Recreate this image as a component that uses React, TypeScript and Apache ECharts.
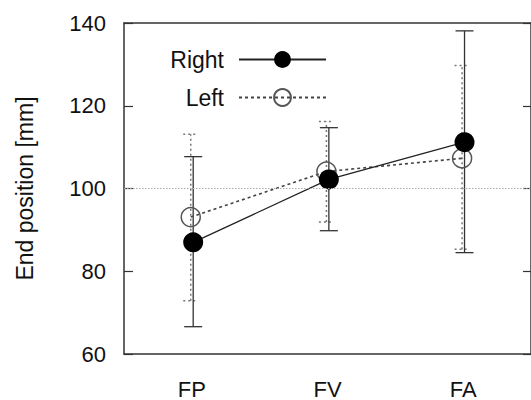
import React, { useEffect, useRef } from "react";
import * as echarts from "echarts";

const categories = ["FP", "FV", "FA"];
const rightMean = [87.0, 102.2, 111.2];
const rightLow = [66.6, 89.8, 84.5];
const rightHigh = [107.7, 114.7, 138.1];
const leftMean = [93.1, 104.1, 107.3];
const leftLow = [72.9, 91.9, 85.3];
const leftHigh = [113.1, 116.2, 129.7];
const yTicks = { min: 60, max: 140, interval: 20 };
const referenceValue = 100;
const rightShift = 0.01;
const leftShift = -0.008;

const FONT = "'Liberation Sans', Arial, sans-serif";

function errorBar(stroke: string, width: number, cap: number, dash: number[] | null) {
  return (params: any, api: any) => {
    const x = api.value(0);
    const lo = api.coord([x, api.value(1)]);
    const hi = api.coord([x, api.value(2)]);
    const hw = cap / 2;
    const style: any = { stroke, lineWidth: width, fill: "none" };
    if (dash) style.lineDash = dash;
    return {
      type: "group",
      children: [
        { type: "line", shape: { x1: lo[0], y1: lo[1], x2: hi[0], y2: hi[1] }, style },
        { type: "line", shape: { x1: lo[0] - hw, y1: lo[1], x2: lo[0] + hw, y2: lo[1] }, style },
        { type: "line", shape: { x1: hi[0] - hw, y1: hi[1], x2: hi[0] + hw, y2: hi[1] }, style },
      ],
    };
  };
}

export default function App() {
  const ref = useRef<HTMLDivElement>(null);
  useEffect(() => {
    if (!ref.current) return;
    const chart = echarts.init(ref.current, undefined, { renderer: "svg" });
    const xPos = (i: number, s: number) => i + 1 + s;
    const axisLineStyle = { color: "#333", width: 1.5 };
    const legendText = { fontSize: 23, color: "#111", fontFamily: FONT, padding: [0, 10, 0, 0] };
    const option: any = {
      animation: false,
      backgroundColor: "#fff",
      textStyle: { fontFamily: FONT },
      grid: { left: 124, right: 0, top: 23, bottom: 46, containLabel: false },
      legend: [
        {
          data: ["Right"],
          right: 204,
          top: 48,
          padding: 0,
          align: "right",
          itemWidth: 87,
          itemHeight: 21,
          textStyle: legendText,
        },
        {
          data: ["Left"],
          right: 204,
          top: 86,
          padding: 0,
          align: "right",
          itemWidth: 87,
          itemHeight: 21,
          textStyle: legendText,
        },
      ],
      xAxis: [
        {
          type: "category",
          data: categories,
          position: "bottom",
          boundaryGap: true,
          axisLine: { lineStyle: axisLineStyle },
          axisTick: { inside: true, alignWithLabel: true, length: 8, lineStyle: { color: "#333", width: 1.2 } },
          axisLabel: { fontSize: 22, color: "#111", margin: 24, fontFamily: FONT },
          splitLine: { show: false },
        },
        {
          type: "category",
          data: categories,
          position: "top",
          boundaryGap: true,
          axisLine: { lineStyle: axisLineStyle },
          axisTick: { inside: true, alignWithLabel: true, length: 8, lineStyle: { color: "#333", width: 1.2 } },
          axisLabel: { show: false },
          splitLine: { show: false },
        },
        { type: "value", min: 0.5, max: 3.5, show: false, splitLine: { show: false } },
      ],
      yAxis: [
        {
          type: "value",
          min: yTicks.min,
          max: yTicks.max,
          interval: yTicks.interval,
          position: "left",
          name: "End position [mm]",
          nameLocation: "middle",
          nameGap: 88,
          nameTextStyle: { fontSize: 23, color: "#111", fontFamily: FONT },
          axisLine: { show: true, lineStyle: axisLineStyle },
          axisTick: { show: true, inside: true, length: 9, lineStyle: { color: "#333", width: 1.2 } },
          axisLabel: { fontSize: 22, color: "#111", margin: 18, fontFamily: FONT },
          splitLine: { show: false },
        },
        {
          type: "value",
          min: yTicks.min,
          max: yTicks.max,
          interval: yTicks.interval,
          position: "right",
          axisLine: { show: true, lineStyle: axisLineStyle },
          axisTick: { show: true, inside: true, length: 8, lineStyle: { color: "#333", width: 1.2 } },
          axisLabel: { show: false },
          splitLine: { show: false },
        },
      ],
      series: [
        {
          name: "Left",
          type: "line",
          xAxisIndex: 2,
          yAxisIndex: 0,
          data: leftMean.map((v, i) => [xPos(i, leftShift), v]),
          symbol: "circle",
          symbolSize: 19,
          lineStyle: { color: "#444", width: 1.6, type: [3, 3] },
          itemStyle: { color: "rgba(0,0,0,0)", borderColor: "#555", borderWidth: 1.5 },
          z: 3,
          markLine: {
            silent: true,
            symbol: "none",
            label: { show: false },
            lineStyle: { color: "#aaa", width: 1, type: [1.5, 1.5] },
            data: [{ yAxis: referenceValue }],
          },
        },
        {
          name: "LeftErr",
          type: "custom",
          xAxisIndex: 2,
          yAxisIndex: 0,
          renderItem: errorBar("#777", 1.5, 15, [2, 3]),
          encode: { x: 0, y: [1, 2] },
          data: leftLow.map((v, i) => [xPos(i, leftShift), v, leftHigh[i]]),
          z: 2,
        },
        {
          name: "RightErr",
          type: "custom",
          xAxisIndex: 2,
          yAxisIndex: 0,
          renderItem: errorBar("#333", 1.3, 18, null),
          encode: { x: 0, y: [1, 2] },
          data: rightLow.map((v, i) => [xPos(i, rightShift), v, rightHigh[i]]),
          z: 2,
        },
        {
          name: "Right",
          type: "line",
          xAxisIndex: 2,
          yAxisIndex: 0,
          data: rightMean.map((v, i) => [xPos(i, rightShift), v]),
          symbol: "circle",
          symbolSize: 20,
          lineStyle: { color: "#222", width: 1.3, type: "solid" },
          itemStyle: { color: "#000", borderColor: "#000", borderWidth: 0 },
          z: 4,
        },
      ],
    };
    chart.setOption(option);
    return () => chart.dispose();
  }, []);
  return (
    <div
      ref={ref}
      style={{ position: "absolute", left: 0, top: 0, width: 531, height: 400, background: "#fff" }}
    />
  );
}
